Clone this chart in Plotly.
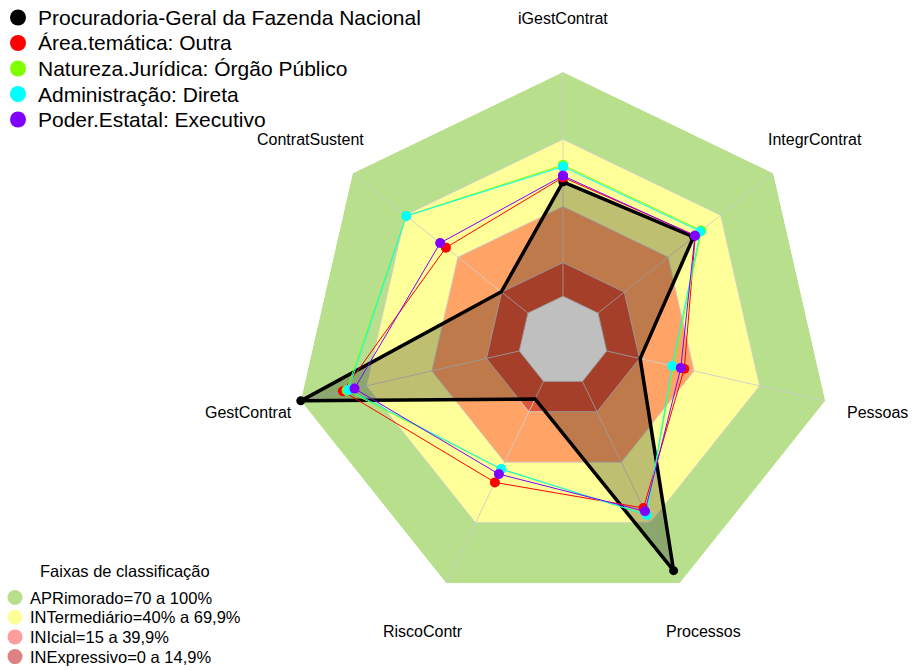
import math
import plotly.graph_objects as go

# ---- data -------------------------------------------------------------
categories = ["iGestContrat", "IntegrContrat", "Pessoas", "Processos",
              "RiscoContr", "GestContrat", "ContratSustent"]

pgfn = [51.0, 54.5, 15.3, 93.7, 8.7, 100.0, 15.2]
area_outra = [53.0, 55.5, 35.5, 62.7, 50.0, 80.7, 46.8]
orgao_publico = [58.5, 59.0, 30.5, 66.0, 43.5, 79.0, 69.5]
adm_direta = [57.8, 58.4, 30.0, 66.1, 43.4, 78.2, 69.4]
poder_executivo = [53.7, 55.3, 33.9, 64.3, 45.9, 75.4, 50.1]

series_names = ["Procuradoria-Geral da Fazenda Nacional",
                "Área.temática: Outra",
                "Natureza.Jurídica: Órgão Público",
                "Administração: Direta",
                "Poder.Estatal: Executivo"]

# classification bands (upper limit of each band)
band_limits = [100, 70, 40, 15, 0]
band_labels = ["APRimorado=70 a 100%", "INTermediário=40% a 69,9%",
               "INIcial=15 a 39,9%", "INExpressivo=0 a 14,9%"]
legend_title = "Faixas de classificação"

R_MIN, R_MAX = -20, 100

# ---- styles -----------------------------------------------------------
FONT = "Liberation Sans, Arial, sans-serif"
band_fill = ["#B8E08C", "#FFFF99", "#FFA366", "#DC5538", "#FFFFFF"]
band_swatch = ["#B8E08C", "#FFFF99", "#FF9C9C", "#DC8282"]
series_colors = ["#000000", "#FF0000", "#80FF00", "#00FFFF", "#8000FF"]
GRID = "rgba(205,205,205,0.9)"

W, H = 912, 670
CX, CY, RAD = 563, 341, 269  # polar centre / radius in pixels
LABEL_SCALE = 1.2            # axis labels sit at 1.2 x outer radius


def closed(vals):
    return list(vals) + [vals[0]]


theta_closed = closed(categories)

fig = go.Figure()

# background bands
for lim, col in zip(band_limits, band_fill):
    fig.add_trace(go.Scatterpolar(
        r=[lim] * len(theta_closed), theta=theta_closed, mode="lines",
        fill="toself", fillcolor=col, line=dict(width=0, color=col),
        hoverinfo="skip", showlegend=False))

# grid: band outlines and spokes
for lim in band_limits[1:]:
    fig.add_trace(go.Scatterpolar(
        r=[lim] * len(theta_closed), theta=theta_closed, mode="lines",
        line=dict(width=1, color=GRID), hoverinfo="skip", showlegend=False))
spoke_r, spoke_t = [], []
for c in categories:
    spoke_r += [0, R_MAX, None]
    spoke_t += [c, c, None]
fig.add_trace(go.Scatterpolar(
    r=spoke_r, theta=spoke_t, mode="lines", connectgaps=False,
    line=dict(width=1, color=GRID), hoverinfo="skip", showlegend=False))

# series
all_series = [pgfn, area_outra, orgao_publico, adm_direta, poder_executivo]
for i, (vals, name, col) in enumerate(zip(all_series, series_names, series_colors)):
    main = i == 0
    fig.add_trace(go.Scatterpolar(
        r=closed(vals), theta=theta_closed, name=name,
        mode="lines+markers",
        fill="toself" if main else "none",
        fillcolor="rgba(0,0,0,0.25)" if main else None,
        line=dict(color=col, width=3.5 if main else 1),
        marker=dict(color=col, size=9 if main else 10),
        showlegend=False))


def px(x):
    return x / W


def py(y):
    return 1 - y / H


shapes, annotations = [], []

# axis labels outside the outer polygon
n = len(categories)
for k, cat in enumerate(categories):
    ang = 2 * math.pi * k / n
    lx = CX + LABEL_SCALE * RAD * math.sin(ang)
    ly = CY - LABEL_SCALE * RAD * math.cos(ang)
    annotations.append(dict(x=px(lx), y=py(ly), xref="paper", yref="paper",
                            text=cat, showarrow=False, xanchor="center",
                            yanchor="middle",
                            font=dict(family=FONT, size=16, color="black")))


# ---- hand-built legends ----------------------------------------------
def legend_row(x0, y, d, text, color, tx, size):
    shapes.append(dict(type="circle", xref="paper", yref="paper",
                       x0=px(x0 - d / 2), x1=px(x0 + d / 2),
                       y0=py(y + d / 2), y1=py(y - d / 2),
                       fillcolor=color, line=dict(width=0)))
    annotations.append(dict(x=px(tx), y=py(y), xref="paper", yref="paper",
                            text=text, showarrow=False, xanchor="left",
                            yanchor="middle",
                            font=dict(family=FONT, size=size, color="black")))


for i, (name, col) in enumerate(zip(series_names, series_colors)):
    legend_row(18, 17.5 + 25.5 * i, 16, name, col, 35.5, 21)

annotations.append(dict(x=px(125), y=py(571), xref="paper", yref="paper",
                        text=legend_title, showarrow=False, xanchor="center",
                        yanchor="middle",
                        font=dict(family=FONT, size=16.5, color="black")))
for i, (lab, col) in enumerate(zip(band_labels, band_swatch)):
    legend_row(15, 597.5 + 19.7 * i, 15, lab, col, 28, 16.5)

fig.update_layout(
    width=W, height=H,
    margin=dict(l=0, r=0, t=0, b=0),
    paper_bgcolor="white",
    showlegend=False,
    shapes=shapes,
    annotations=annotations,
    polar=dict(
        domain=dict(x=[(CX - RAD) / W, (CX + RAD) / W],
                    y=[(H - CY - RAD) / H, (H - CY + RAD) / H]),
        bgcolor="white",
        gridshape="linear",
        radialaxis=dict(range=[R_MIN, R_MAX], visible=False),
        angularaxis=dict(type="category", categoryorder="array",
                         categoryarray=categories, direction="clockwise",
                         rotation=90, showticklabels=False, showgrid=False,
                         showline=False, ticks=""),
    ),
)

fig.write_html("out.html")
